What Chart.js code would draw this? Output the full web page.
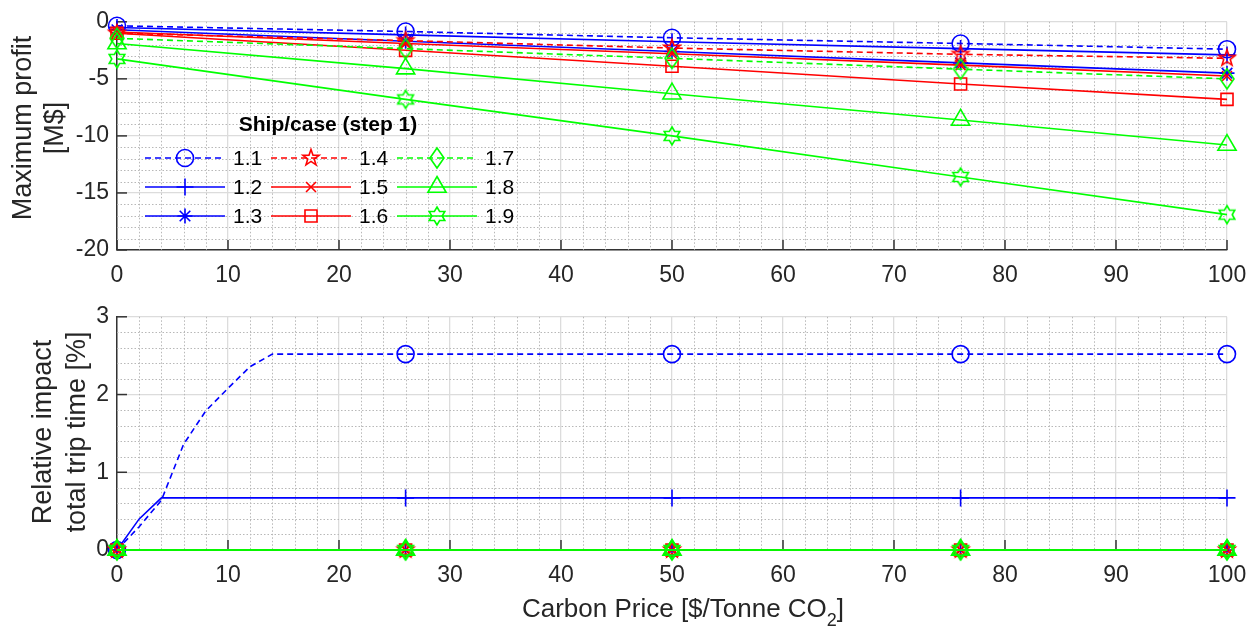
<!DOCTYPE html>
<html>
<head>
<meta charset="utf-8">
<script src="https://cdn.jsdelivr.net/npm/chart.js@4.4.1/dist/chart.umd.min.js"></script>
<style>
  html, body { margin: 0; padding: 0; background: #fff; }
  #wrap { position: relative; width: 1259px; height: 630px; }
  .box { position: absolute; left: 0; width: 1259px; }
</style>
</head>
<body>
<div id="wrap">
  <div class="box" style="top:0;height:295px"><canvas id="profitChart"></canvas></div>
  <div class="box" style="top:295px;height:335px"><canvas id="tripChart"></canvas></div>
</div>
<script>
// ---- data ----
const caseNames = ['1.1', '1.2', '1.3', '1.4', '1.5', '1.6', '1.7', '1.8', '1.9'];
const priceX = [0, 26, 50, 76, 100];          // carbon price [$/tonne CO2]

// maximum profit [M$]
const profit11 = [-0.35, -0.85, -1.4, -1.9, -2.4];
const profit12 = [-0.5, -1.15, -1.75, -2.35, -2.9];
const profit13 = [-0.7, -1.7, -2.6, -3.6, -4.5];
const profit14 = [-1.0, -1.65, -2.3, -2.85, -3.2];
const profit15 = [-0.9, -1.9, -2.8, -3.8, -4.75];
const profit16 = [-1.0, -2.5, -3.9, -5.45, -6.8];
const profit17 = [-1.45, -2.35, -3.2, -4.15, -5.0];
const profit18 = [-1.9, -4.1, -6.3, -8.6, -10.8];
const profit19 = [-3.25, -6.8, -10.0, -13.6, -16.9];

// relative impact total trip time [%]
const tripX11 = [0, 2, 4, 6, 8, 10, 12, 14, 26, 50, 76, 100];
const trip11  = [0, 0.3, 0.64, 1.36, 1.79, 2.08, 2.36, 2.52, 2.52, 2.52, 2.52, 2.52];
const tripX12 = [0, 2, 4, 26, 50, 76, 100];
const trip12  = [0, 0.4, 0.67, 0.67, 0.67, 0.67, 0.67];
const trip13 = [0, 0, 0, 0, 0];
const trip14 = [0, 0, 0, 0, 0];
const trip15 = [0, 0, 0, 0, 0];
const trip16 = [0, 0, 0, 0, 0];
const trip17 = [0, 0, 0, 0, 0];
const trip18 = [0, 0, 0, 0, 0];
const trip19 = [0, 0, 0, 0, 0];

// ---- style ----
const FONT = '"Liberation Sans", Arial, Helvetica, sans-serif';
const TXT = '#262626';
const AXIS = '#333333';
const MAJOR = '#dcdcdc';
const MINOR = '#b8b8b8';
const BLUE = '#0000ff', RED = '#ff0000', GREEN = '#00ff00';
const LW = 1.6;

function markerCanvas(color, size, path) {
  const c = document.createElement('canvas');
  c.width = c.height = size;
  const g = c.getContext('2d');
  g.translate(size / 2, size / 2);
  g.strokeStyle = color;
  g.lineWidth = LW;
  g.beginPath();
  path(g);
  g.closePath();
  g.stroke();
  return c;
}
function starPath(n, rOut, rIn) {
  return g => {
    for (let k = 0; k < n * 2; k++) {
      const r = k % 2 ? rIn : rOut;
      const a = -Math.PI / 2 + k * Math.PI / n;
      if (k === 0) g.moveTo(r * Math.cos(a), r * Math.sin(a));
      else g.lineTo(r * Math.cos(a), r * Math.sin(a));
    }
  };
}
const pentagram = markerCanvas(RED, 24, starPath(5, 8.5, 3.4));
const diamond = markerCanvas(GREEN, 24, g => { g.moveTo(0, -10); g.lineTo(7, 0); g.lineTo(0, 10); g.lineTo(-7, 0); });
const hexagram = markerCanvas(GREEN, 24, starPath(6, 9, 5.2));

const caseColor  = [BLUE, BLUE, BLUE, RED, RED, RED, GREEN, GREEN, GREEN];
const caseDash   = [[6, 4], [], [], [6, 4], [], [], [6, 4], [], []];
const caseMarker = ['circle', 'cross', 'star', pentagram, 'crossRot', 'rect', diamond, 'triangle', hexagram];
const caseRadius = [8.5, 8.5, 7.5, 9, 7, 8.5, 9, 10.5, 9];

const profitSeries = [profit11, profit12, profit13, profit14, profit15, profit16, profit17, profit18, profit19];
const tripXs = [tripX11, tripX12, priceX, priceX, priceX, priceX, priceX, priceX, priceX];
const tripSeries = [trip11, trip12, trip13, trip14, trip15, trip16, trip17, trip18, trip19];

function buildDatasets(xsList, ysList) {
  return caseNames.map((name, i) => ({
    label: name,
    data: xsList[i].map((x, j) => ({ x: x, y: ysList[i][j] })),
    borderColor: caseColor[i],
    borderWidth: LW,
    borderDash: caseDash[i],
    backgroundColor: 'transparent',
    pointStyle: caseMarker[i],
    pointRadius: ctx => (ctx.raw && priceX.includes(ctx.raw.x)) ? caseRadius[i] : 0,
    pointBorderColor: caseColor[i],
    pointBackgroundColor: 'rgba(0,0,0,0)',
    pointBorderWidth: LW,
    tension: 0,
    fill: false,
    clip: false,
    order: 9 - i      // matlab draws the last line on top
  }));
}

// minor dotted grid + inward tick marks (matlab look)
const axisDecor = {
  id: 'axisDecor',
  beforeDatasetsDraw(chart, args, opts) {
    const { ctx, chartArea: a, scales } = chart;
    const xs = scales.x, ys = scales.y;
    ctx.save();
    ctx.strokeStyle = MINOR;
    ctx.lineWidth = 1;
    ctx.setLineDash([1.5, 2]);
    for (let v = xs.min; v <= xs.max + 1e-9; v += opts.xMinor) {
      if (Math.abs(v / opts.xMajor - Math.round(v / opts.xMajor)) < 1e-6) continue;
      const p = Math.round(xs.getPixelForValue(v)) + 0.5;
      ctx.beginPath(); ctx.moveTo(p, a.top); ctx.lineTo(p, a.bottom); ctx.stroke();
    }
    for (let v = ys.min; v <= ys.max + 1e-9; v += opts.yMinor) {
      if (Math.abs(v / opts.yMajor - Math.round(v / opts.yMajor)) < 1e-6) continue;
      const p = Math.round(ys.getPixelForValue(v)) + 0.5;
      ctx.beginPath(); ctx.moveTo(a.left, p); ctx.lineTo(a.right, p); ctx.stroke();
    }
    ctx.setLineDash([]);
    ctx.strokeStyle = AXIS;
    ctx.lineWidth = 1.5;
    xs.ticks.forEach(t => {
      const p = xs.getPixelForValue(t.value);
      ctx.beginPath(); ctx.moveTo(p, a.bottom); ctx.lineTo(p, a.bottom - 10); ctx.stroke();
    });
    ys.ticks.forEach(t => {
      const p = ys.getPixelForValue(t.value);
      ctx.beginPath(); ctx.moveTo(a.left, p); ctx.lineTo(a.left + 10, p); ctx.stroke();
    });
    ctx.restore();
  }
};

// axis titles drawn by hand (two-line rotated y label, subscript in x label)
const axisTitles = {
  id: 'axisTitles',
  afterDraw(chart, args, opts) {
    const ctx = chart.ctx;
    ctx.save();
    ctx.fillStyle = TXT;
    ctx.font = '27px ' + FONT;
    ctx.textAlign = 'center';
    ctx.textBaseline = 'alphabetic';
    opts.yLines.forEach((line, k) => {
      ctx.save();
      ctx.translate(opts.yBase[k], opts.yCenter);
      ctx.rotate(-Math.PI / 2);
      ctx.fillText(line, 0, 0);
      ctx.restore();
    });
    if (opts.xTitle) {
      const main = opts.xTitle[0], sub = opts.xTitle[1], tail = opts.xTitle[2];
      ctx.font = '26px ' + FONT;
      const w1 = ctx.measureText(main).width, w3 = ctx.measureText(tail).width;
      ctx.font = '18px ' + FONT;
      const w2 = ctx.measureText(sub).width;
      let x = opts.xCenter - (w1 + w2 + w3) / 2;
      ctx.textAlign = 'left';
      ctx.font = '26px ' + FONT;
      ctx.fillText(main, x, opts.xBase); x += w1;
      ctx.font = '18px ' + FONT;
      ctx.fillText(sub, x, opts.xBase + 9); x += w2;
      ctx.font = '26px ' + FONT;
      ctx.fillText(tail, x, opts.xBase);
    }
    ctx.restore();
  }
};

// legend: 3 columns, filled column by column, inside the top axes
const caseLegend = {
  id: 'caseLegend',
  afterDatasetsDraw(chart, args, opts) {
    const ctx = chart.ctx;
    ctx.save();
    ctx.fillStyle = '#000';
    ctx.font = 'bold 21px ' + FONT;
    ctx.textAlign = 'center';
    ctx.textBaseline = 'middle';
    ctx.fillText(opts.title, opts.titleX, opts.titleY);
    ctx.font = '21px ' + FONT;
    ctx.textAlign = 'left';
    chart.data.datasets.forEach((ds, i) => {
      const col = Math.floor(i / 3), row = i % 3;
      const x0 = opts.colX[col], y = opts.rowY[row];
      ctx.strokeStyle = ds.borderColor;
      ctx.lineWidth = LW;
      ctx.setLineDash(ds.borderDash);
      ctx.beginPath(); ctx.moveTo(x0, y); ctx.lineTo(x0 + opts.lineLen, y); ctx.stroke();
      ctx.setLineDash([]);
      ctx.fillStyle = 'rgba(0,0,0,0)';
      Chart.helpers.drawPoint(ctx, { pointStyle: ds.pointStyle, rotation: 0, radius: caseRadius[i], borderWidth: LW }, x0 + opts.lineLen / 2, y);
      ctx.fillStyle = '#000';
      ctx.fillText(ds.label, x0 + opts.lineLen + 8, y + 1);
    });
    ctx.restore();
  }
};

function scalesFor(yMin, yMax, yStep, xAxisH) {
  return {
    x: {
      type: 'linear', min: 0, max: 100,
      ticks: { stepSize: 10, padding: 12, color: TXT, font: { size: 23, family: FONT }, maxRotation: 0, autoSkip: false },
      grid: { color: MAJOR, lineWidth: 1.3, drawTicks: false },
      border: { color: AXIS, width: 1.5 },
      afterFit: s => { s.height = xAxisH; }
    },
    y: {
      type: 'linear', min: yMin, max: yMax,
      ticks: { stepSize: yStep, padding: 8, color: TXT, font: { size: 23, family: FONT } },
      grid: { color: MAJOR, lineWidth: 1.3, drawTicks: false },
      border: { color: AXIS, width: 1.5 },
      afterFit: s => { s.width = 117; }
    }
  };
}

const common = {
  responsive: true,
  maintainAspectRatio: false,
  animation: false,
  events: []
};

new Chart(document.getElementById('profitChart'), {
  type: 'line',
  data: { datasets: buildDatasets(profitSeries.map(() => priceX), profitSeries) },
  options: Object.assign({}, common, {
    layout: { padding: { top: 15, right: 32, left: 0, bottom: 0 } },
    scales: scalesFor(-20, 0, 5, 45),
    plugins: {
      legend: { display: false },
      tooltip: { enabled: false },
      axisDecor: { xMinor: 2, xMajor: 10, yMinor: 1, yMajor: 5 },
      axisTitles: { yLines: ['Maximum profit', '[M$]'], yBase: [31, 63], yCenter: 128 },
      caseLegend: {
        title: 'Ship/case (step 1)', titleX: 328, titleY: 125,
        colX: [145, 271, 397], rowY: [158, 187, 216], lineLen: 80
      }
    }
  }),
  plugins: [axisDecor, axisTitles, caseLegend]
});

new Chart(document.getElementById('tripChart'), {
  type: 'line',
  data: { datasets: buildDatasets(tripXs, tripSeries) },
  options: Object.assign({}, common, {
    layout: { padding: { top: 20, right: 32, left: 0, bottom: 0 } },
    scales: scalesFor(0, 3, 1, 80),
    plugins: {
      legend: { display: false },
      tooltip: { enabled: false },
      axisDecor: { xMinor: 2, xMajor: 10, yMinor: 0.2, yMajor: 1 },
      axisTitles: {
        yLines: ['Relative impact', 'total trip time [%]'], yBase: [51, 85], yCenter: 137,
        xTitle: ['Carbon Price [$/Tonne CO', '2', ']'], xCenter: 683, xBase: 322
      }
    }
  }),
  plugins: [axisDecor, axisTitles]
});
</script>
</body>
</html>
